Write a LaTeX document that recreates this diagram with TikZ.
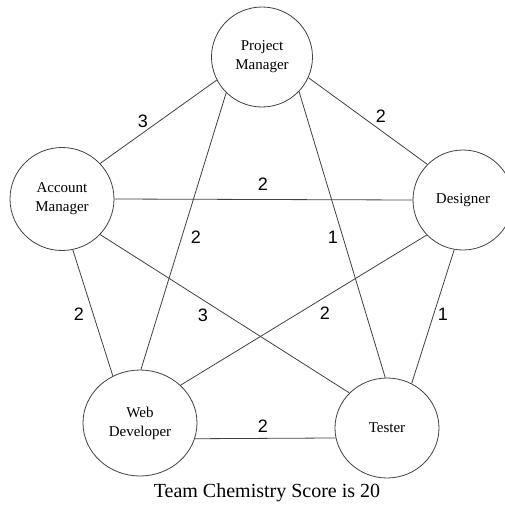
\documentclass[tikz,border=0pt]{standalone}
\usepackage{fontspec}
\setmainfont{Liberation Serif}
\newfontfamily\digitfont{Liberation Sans}
\usetikzlibrary{shapes.geometric}
\begin{document}
\begin{tikzpicture}[x=1pt,y=-1pt,
  person/.style={ellipse, draw=black!75, line width=0.8pt, fill=white, inner sep=0pt, align=center, font=\fontsize{15}{19}\selectfont},
  link/.style={draw=black!75, line width=0.8pt},
  weight/.style={inner sep=0pt, font=\digitfont\fontsize{18}{20}\selectfont},
  caption/.style={inner sep=0pt, font=\fontsize{20}{22}\selectfont}]
\useasboundingbox (0,0) rectangle (505,507);
\node[person, minimum width=101pt, minimum height=100pt] (pm) at (262,57) {Project\\Manager};
\node[person, minimum width=104pt, minimum height=103pt] (am) at (62,199) {Account\\Manager};
\node[person, minimum width=100pt, minimum height=100pt] (d) at (463,200) {Designer};
\node[person, minimum width=114pt, minimum height=106pt] (wd) at (140,423) {Web\\Developer};
\node[person, minimum width=104pt, minimum height=100pt] (t) at (387,428) {Tester};
\draw[link] (pm.207) -- (am.43);
\draw[link] (pm.336) -- (d.135);
\draw[link] (pm.225) -- (wd.89);
\draw[link] (pm.317) -- (t.92);
\draw[link] (am.0) -- (d.180);
\draw[link] (am.317) -- (t.137);
\draw[link] (am.282) -- (wd.120);
\draw[link] (d.224) -- (wd.43);
\draw[link] (d.260) -- (t.61);
\draw[link] (wd.344) -- (t.191);
\node[weight] (w1) at (143,121) {3};
\node[weight] (w2) at (381,116) {2};
\node[weight] (w3) at (263,184) {2};
\node[weight] (w4) at (196,237) {2};
\node[weight] (w5) at (333,237) {1};
\node[weight] (w6) at (79,314) {2};
\node[weight] (w7) at (203,315) {3};
\node[weight] (w8) at (325,313) {2};
\node[weight] (w9) at (443,314) {1};
\node[weight] (w10) at (263,426) {2};
\node[caption] (title) at (267,493) {Team Chemistry Score is 20};
\end{tikzpicture}
\end{document}
